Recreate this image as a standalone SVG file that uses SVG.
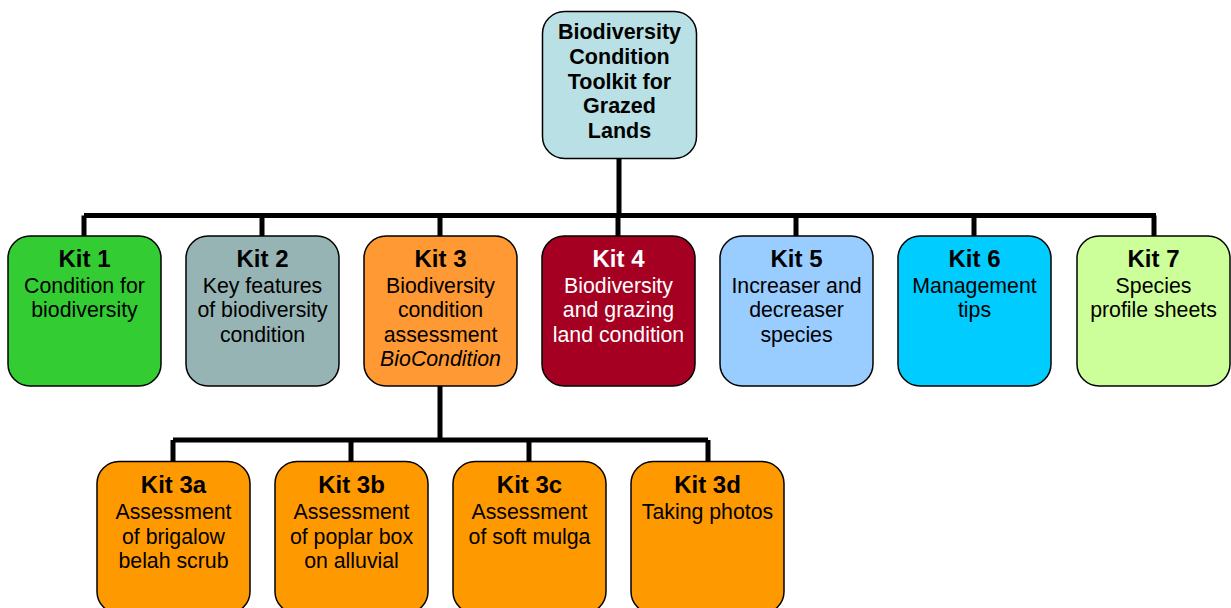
<svg xmlns="http://www.w3.org/2000/svg" width="1231" height="608" viewBox="0 0 1231 608">
<style>
.box{stroke:#000;stroke-width:1.5}
.t{font-family:"Liberation Sans",Arial,sans-serif;font-size:21.3px;text-anchor:middle;fill:#000}
.h{font-weight:bold;font-size:24px}
.top{font-weight:bold;font-size:21.5px}
.w{fill:#fff}
.conn{fill:none;stroke:#000;stroke-width:5}
</style>
<rect width="1231" height="608" fill="#fff"/>
<g id="connectors">
<path class="conn" d="M619,158 V215.5 M84,215.5 H1156 M84,215.5 V237 M262,215.5 V237 M440,215.5 V237 M618,215.5 V237 M796,215.5 V237 M974,215.5 V237 M1154,215.5 V237"/>
<path class="conn" d="M440,386 V440 M173,440 H708 M173,440 V462 M351,440 V462 M529,440 V462 M708,440 V462"/>
</g>
<g id="root">
<rect class="box" x="542.5" y="11.5" width="154" height="147" rx="22" fill="#b9e1e5"/>
<text class="t top" x="619.5" y="39">Biodiversity</text>
<text class="t top" x="619.5" y="63.5">Condition</text>
<text class="t top" x="619.5" y="88.5">Toolkit for</text>
<text class="t top" x="619.5" y="113">Grazed</text>
<text class="t top" x="619.5" y="138">Lands</text>
</g>
<g id="kit1">
<rect class="box" x="8" y="236" width="153" height="150" rx="22" fill="#33cc33"/>
<text class="t h" x="84.5" y="267">Kit 1</text>
<text class="t" x="84.5" y="292.5">Condition for</text>
<text class="t" x="84.5" y="317">biodiversity</text>
</g>
<g id="kit2">
<rect class="box" x="186" y="236" width="153" height="150" rx="22" fill="#97b4b4"/>
<text class="t h" x="262.5" y="267">Kit 2</text>
<text class="t" x="262.5" y="292.5">Key features</text>
<text class="t" x="262.5" y="317">of biodiversity</text>
<text class="t" x="262.5" y="341.5">condition</text>
</g>
<g id="kit3">
<rect class="box" x="364" y="236" width="153" height="150" rx="22" fill="#ff9933"/>
<text class="t h" x="440.5" y="267">Kit 3</text>
<text class="t" x="440.5" y="292.5">Biodiversity</text>
<text class="t" x="440.5" y="317">condition</text>
<text class="t" x="440.5" y="341.5">assessment</text>
<text class="t" x="440.5" y="366" font-style="italic">BioCondition</text>
</g>
<g id="kit4">
<rect class="box" x="542" y="236" width="153" height="150" rx="22" fill="#a50021"/>
<text class="t h w" x="618.5" y="267">Kit 4</text>
<text class="t w" x="618.5" y="292.5">Biodiversity</text>
<text class="t w" x="618.5" y="317">and grazing</text>
<text class="t w" x="618.5" y="341.5">land condition</text>
</g>
<g id="kit5">
<rect class="box" x="720" y="236" width="153" height="150" rx="22" fill="#99ccff"/>
<text class="t h" x="796.5" y="267">Kit 5</text>
<text class="t" x="796.5" y="292.5">Increaser and</text>
<text class="t" x="796.5" y="317">decreaser</text>
<text class="t" x="796.5" y="341.5">species</text>
</g>
<g id="kit6">
<rect class="box" x="898" y="236" width="153" height="150" rx="22" fill="#00ccff"/>
<text class="t h" x="974.5" y="267">Kit 6</text>
<text class="t" x="974.5" y="292.5">Management</text>
<text class="t" x="974.5" y="317">tips</text>
</g>
<g id="kit7">
<rect class="box" x="1077" y="236" width="153" height="150" rx="22" fill="#ccff99"/>
<text class="t h" x="1153.5" y="267">Kit 7</text>
<text class="t" x="1153.5" y="292.5">Species</text>
<text class="t" x="1153.5" y="317">profile sheets</text>
</g>
<g id="kit3a">
<rect class="box" x="97" y="461.5" width="153" height="152" rx="22" fill="#ff9900"/>
<text class="t h" x="173.5" y="493">Kit 3a</text>
<text class="t" x="173.5" y="519">Assessment</text>
<text class="t" x="173.5" y="543.5">of brigalow</text>
<text class="t" x="173.5" y="567.5">belah scrub</text>
</g>
<g id="kit3b">
<rect class="box" x="275" y="461.5" width="153" height="152" rx="22" fill="#ff9900"/>
<text class="t h" x="351.5" y="493">Kit 3b</text>
<text class="t" x="351.5" y="519">Assessment</text>
<text class="t" x="351.5" y="543.5">of poplar box</text>
<text class="t" x="351.5" y="567.5">on alluvial</text>
</g>
<g id="kit3c">
<rect class="box" x="453" y="461.5" width="153" height="152" rx="22" fill="#ff9900"/>
<text class="t h" x="529.5" y="493">Kit 3c</text>
<text class="t" x="529.5" y="519">Assessment</text>
<text class="t" x="529.5" y="543.5">of soft mulga</text>
</g>
<g id="kit3d">
<rect class="box" x="631" y="461.5" width="153" height="152" rx="22" fill="#ff9900"/>
<text class="t h" x="707.5" y="493">Kit 3d</text>
<text class="t" x="707.5" y="519">Taking photos</text>
</g>
</svg>
